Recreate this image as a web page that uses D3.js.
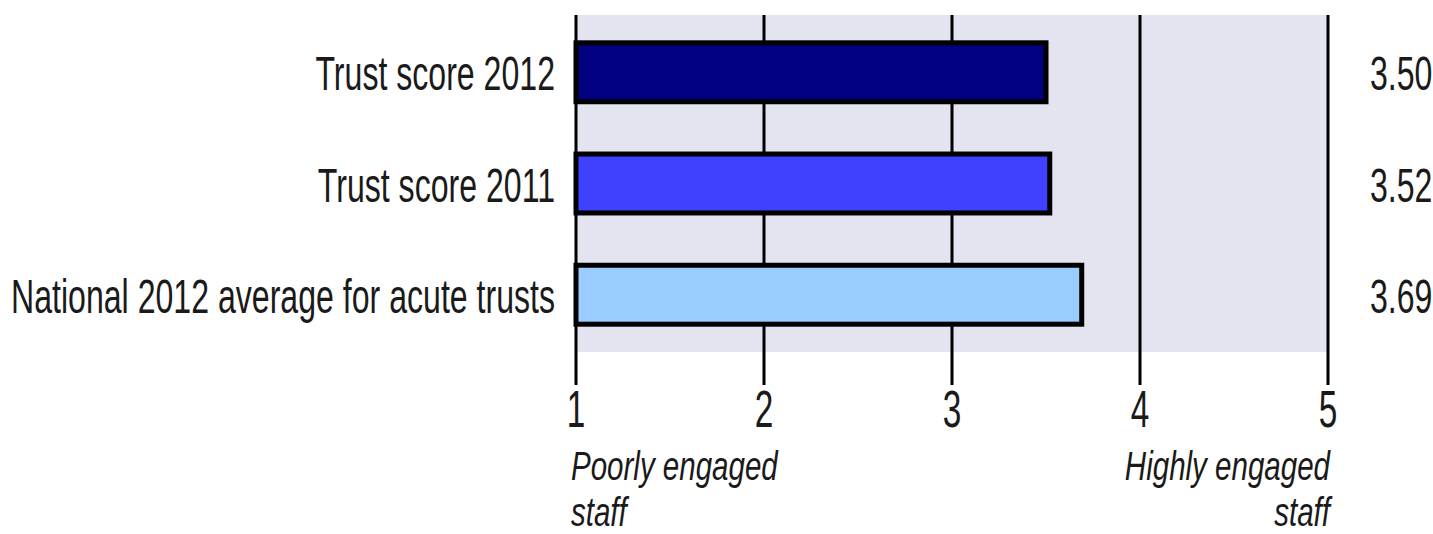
<!DOCTYPE html>
<html>
<head>
<meta charset="utf-8">
<script src="https://cdn.jsdelivr.net/npm/d3@7"></script>
<style>
  html, body { margin: 0; padding: 0; background: #fff; overflow: hidden; }
  text { font-family: "Liberation Sans", Arial, sans-serif; fill: #1a1a1a; }
</style>
</head>
<body>
<svg id="chart"></svg>
<script>
const categories = ["Trust score 2012", "Trust score 2011", "National 2012 average for acute trusts"];
const scores = [3.50, 3.52, 3.69];
const valueLabels = ["3.50", "3.52", "3.69"];
const barColors = ["#000080", "#4040ff", "#99ccff"];
const tickValues = [1, 2, 3, 4, 5];
const lowLabel = ["Poorly engaged", "staff"];
const highLabel = ["Highly engaged", "staff"];

const width = 1433;
const height = 534;
const squeeze = 0.655; // narrow look of the original lettering

const svg = d3.select("#chart").attr("width", width).attr("height", height);

const x = d3.scaleLinear().domain([1, 5]).range([576, 1328]);
const y = d3.scaleBand()
  .domain(categories)
  .range([15, 352])
  .paddingInner(0.47)
  .paddingOuter(0.25);

// helper: compressed text at a point
const label = (g, px, py, txt, size, anchor, italic, sx = squeeze) =>
  g.append("text")
    .attr("transform", `translate(${px},${py}) scale(${sx},1)`)
    .attr("text-anchor", anchor)
    .style("font-size", size + "px")
    .style("font-style", italic ? "italic" : "normal")
    .text(txt);

// plot background
svg.append("rect")
  .attr("x", x(1))
  .attr("y", 15)
  .attr("width", x(5) - x(1))
  .attr("height", 352 - 15)
  .attr("fill", "#e4e4f0");

// grid lines, reaching down past the background as ticks
svg.append("g")
  .selectAll("line")
  .data(tickValues)
  .join("line")
  .attr("x1", (d) => x(d))
  .attr("x2", (d) => x(d))
  .attr("y1", 15)
  .attr("y2", 385)
  .attr("stroke", "#000")
  .attr("stroke-width", 3);

// bars
svg.append("g")
  .selectAll("rect")
  .data(categories)
  .join("rect")
  .attr("x", x(1))
  .attr("y", (d) => y(d))
  .attr("width", (d, i) => x(scores[i]) - x(1))
  .attr("height", y.bandwidth())
  .attr("fill", (d, i) => barColors[i])
  .attr("stroke", "#000")
  .attr("stroke-width", 5);

// category labels
const catG = svg.append("g");
categories.forEach((c) => {
  label(catG, 555, y(c) + y.bandwidth() / 2 + 18, c, 49, "end", false);
});

// value labels on the right
const valG = svg.append("g");
categories.forEach((c, i) => {
  label(valG, 1370, y(c) + y.bandwidth() / 2 + 18, valueLabels[i], 49, "start", false);
});

// tick labels
const tickG = svg.append("g");
tickValues.forEach((t) => {
  label(tickG, x(t), 427, String(t), 51, "middle", false);
});

// end descriptions
const descG = svg.append("g");
lowLabel.forEach((t, i) => {
  label(descG, x(1) - 5, 480 + i * 46, t, 41, "start", true, 0.72);
});
highLabel.forEach((t, i) => {
  label(descG, x(5) + 2, 480 + i * 46, t, 41, "end", true, 0.72);
});
</script>
</body>
</html>
